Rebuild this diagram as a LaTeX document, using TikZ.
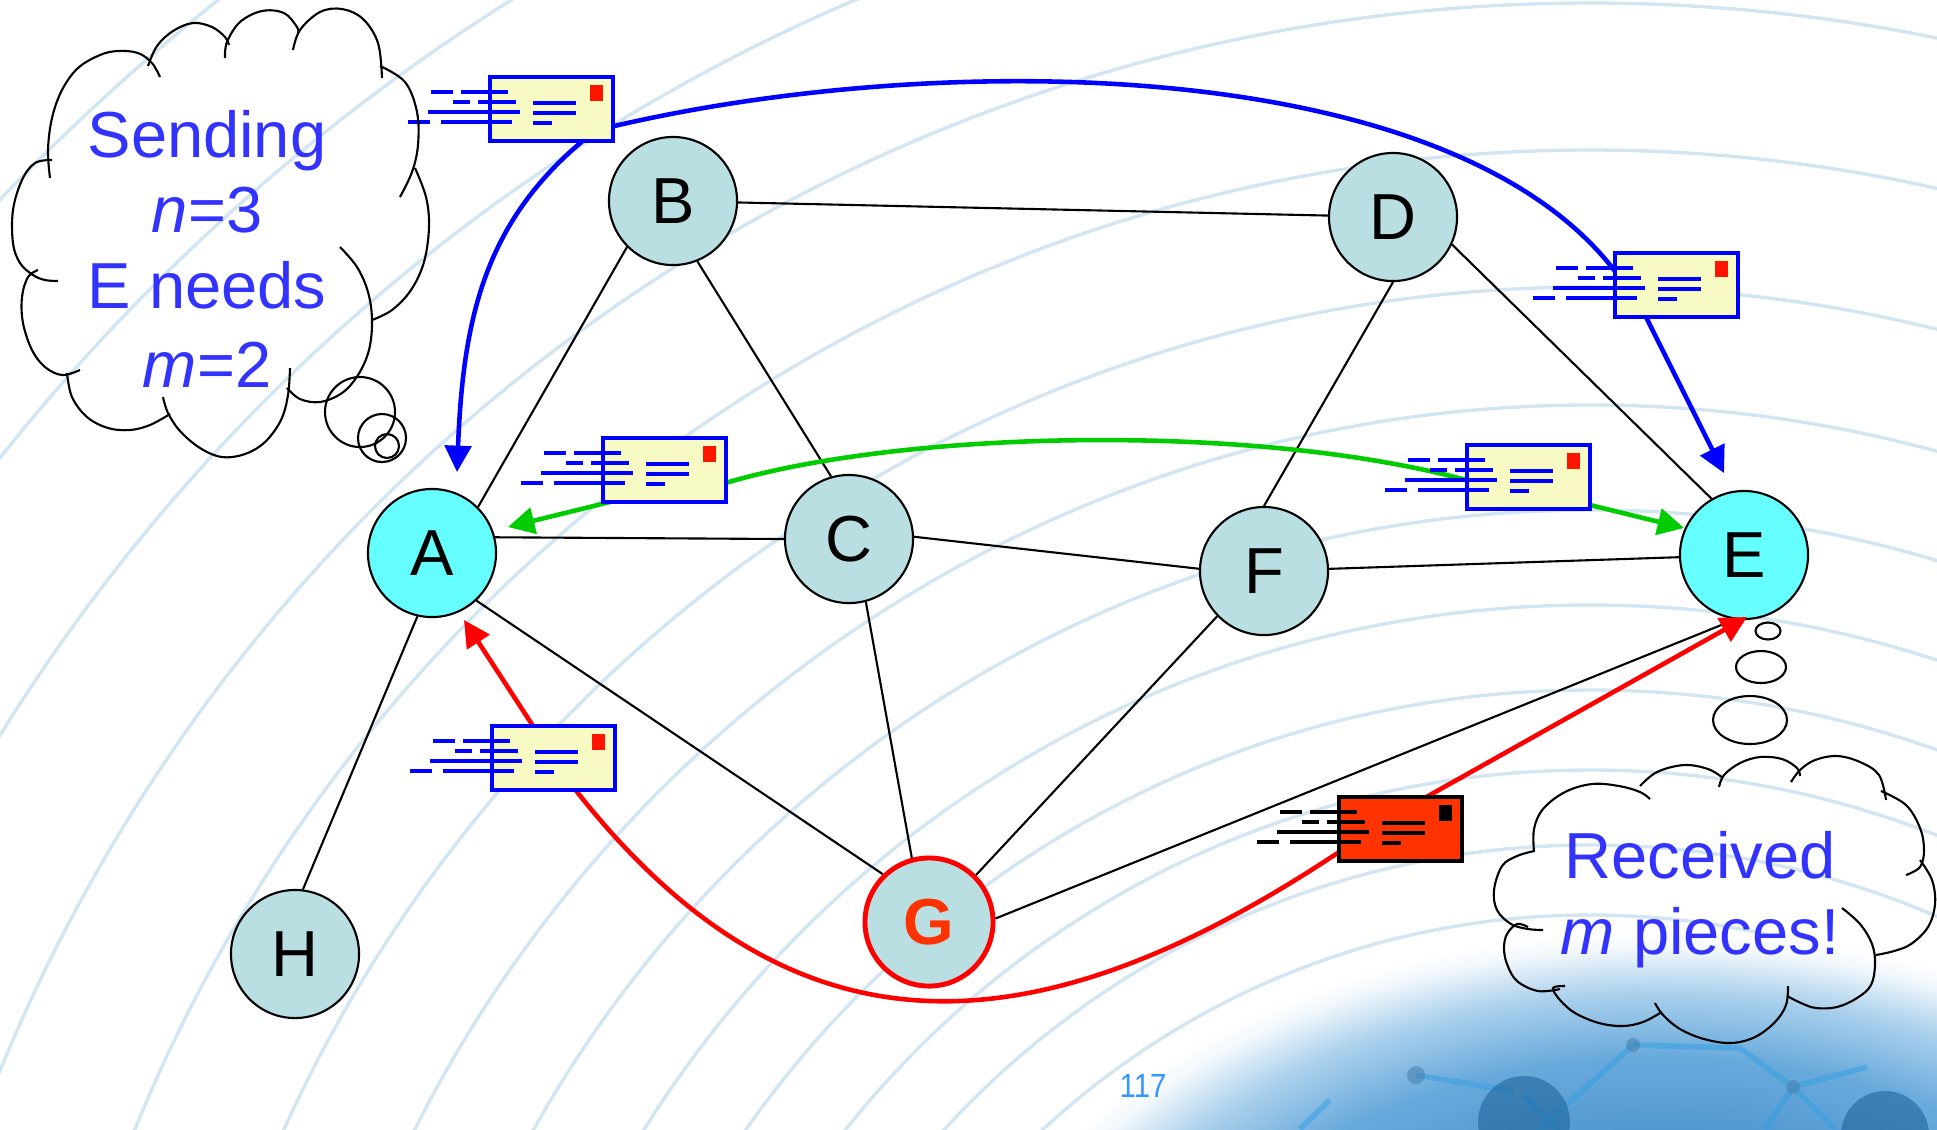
\documentclass[tikz,border=0pt]{standalone}
\usepackage{fontspec}
\setmainfont{Liberation Sans}
\usetikzlibrary{arrows.meta,calc}

\definecolor{nodefill}{RGB}{185,223,226}
\definecolor{hotfill}{RGB}{102,255,255}
\definecolor{msgblue}{RGB}{0,0,255}
\definecolor{msggreen}{RGB}{0,204,0}
\definecolor{msgred}{RGB}{255,0,0}
\definecolor{paper}{RGB}{248,250,195}
\definecolor{stampred}{RGB}{255,20,0}
\definecolor{urgent}{RGB}{255,51,0}
\definecolor{thinkblue}{RGB}{51,51,255}
\definecolor{ripple}{RGB}{210,229,243}
\definecolor{pagenum}{RGB}{51,153,255}
\definecolor{globedark}{RGB}{70,145,205}
\definecolor{globemid}{RGB}{105,170,220}
\definecolor{globelight}{RGB}{170,208,236}
\definecolor{netline}{RGB}{55,160,225}
\definecolor{netdark}{RGB}{25,95,150}

% globe in the corner: blue centre fading out to the white page
% (the path's bounding box maps to the inner 25bp of the shading)
\pgfdeclareradialshading{globecolors}{\pgfpointorigin}{color(0bp)=(globedark); color(12bp)=(globedark); color(18bp)=(globemid); color(21.5bp)=(globelight); color(24bp)=(white!85!globelight); color(25bp)=(white); color(50bp)=(white)}

\tikzset{
  graphnode/.style={circle, draw=black, line width=0.6pt, fill=nodefill,
    minimum size=1.28cm, inner sep=0pt, font=\fontsize{18.5}{22}\selectfont},
  hotnode/.style={graphnode, fill=hotfill},
  sourcenode/.style={graphnode, draw=msgred, line width=1.4pt, text=urgent,
    font=\fontsize{18.5}{22}\selectfont\bfseries},
  link/.style={draw=black, line width=0.6pt},
  flow/.style={line width=1.3pt, line join=round, <->,
    >={Triangle[length=7.5pt,width=7.5pt]}},
  env body/.style={draw=msgblue, fill=paper},
  env ink/.style={draw=msgblue},
  env stamp/.style={fill=stampred},
  urgent envelope/.style={env body/.style={draw=black, fill=urgent},
    env ink/.style={draw=black}, env stamp/.style={fill=black}},
  envelope/.pic={
    \path[env body, line width=1.14pt] (2,2) rectangle (125,66);
    \path[env stamp] (102,10) rectangle (115,26);
    \path[env ink, line width=1.14pt]
      (-57,17) -- (-35,17) (-27,17) -- (20,17)
      (-35,27) -- (-18,27) (-10,27) -- (28,27)
      (-60,37) -- (32,37)
      (-80,47) -- (-58,47) (-47,47) -- (24,47)
      (45,28) -- (88,28) (45,38) -- (88,38) (45,48) -- (64,48);
  },
  thought/.style={draw=black, line width=0.6pt},
  cloudtext/.style={text=thinkblue, font=\fontsize{18.5}{22}\selectfont,
    anchor=base, inner sep=0pt},
  ripple line/.style={draw=ripple, line width=0.95pt},
}

\begin{document}
\begin{tikzpicture}[x=0.01cm, y=-0.01cm]
\useasboundingbox (0,0) rectangle (1937,1129);
\fill[white] (0,0) rectangle (1937,1129);

% ripples and the globe in the corner
\begin{scope}
  \clip (0,0) rectangle (1937,1129);
  \foreach \r in {805,875,950,1030,1115,1210,1315,1433,1570,1717,1870,2030,2200,2380,2560}
    \draw[ripple line] (1590,1720) circle[radius=\r];
  \shade[shading=globecolors] (1660,1380) ellipse[x radius=700, y radius=450];
  \begin{scope}
    \clip (1660,1380) ellipse[x radius=600, y radius=370];
    \begin{scope}[opacity=0.55]
      \draw[netline, line width=1.6pt]
        (1416,1075) -- (1519,1092) -- (1560,1129)
        (1540,1129) -- (1633,1045) -- (1740,1048) -- (1793,1087) -- (1867,1067)
        (1793,1087) -- (1765,1129) (1793,1087) -- (1835,1129)
        (1300,1129) -- (1330,1100);
      \fill[netdark] (1524,1122) circle[radius=46];
      \fill[netdark] (1885,1135) circle[radius=44];
      \fill[netdark!80] (1416,1075) circle[radius=9] (1633,1045) circle[radius=7]
        (1793,1087) circle[radius=7] (1519,1092) circle[radius=6];
    \end{scope}
  \end{scope}
\end{scope}

% network nodes
\node[hotnode] (A) at (432,553) {A};
\node[graphnode] (B) at (673,201) {B};
\node[graphnode] (C) at (849,539) {C};
\node[graphnode] (D) at (1393,217) {D};
\node[hotnode] (E) at (1744,555) {E};
\node[graphnode] (F) at (1264,571) {F};
\node[sourcenode] (G) at (929,922) {G};
\node[graphnode] (H) at (295,954) {H};

% links
\draw[link] (A.45) -- (B.225);
\draw[link] (A.14) -- (C.180);
\draw[link] (A.313) -- (G.134);
\draw[link] (A.257) -- (H.83);
\draw[link] (B.292) -- (C.106);
\draw[link] (B) -- (D);
\draw[link] (C.2) -- (F.178);
\draw[link] (C.285) -- (G.105);
\draw[link] (D.270) -- (F.90);
\draw[link] (D.335) -- (E.120);
\draw[link] (F) -- (E);
\draw[link] (F.224) -- (G.45);
\draw[link] (G.3) -- (E.262);

% free ends of the message paths
\coordinate (blueA) at ($(A)+(25,-81)$);
\coordinate (blueE) at ($(E)+(-20,-82)$);
\coordinate (greenA) at ($(A)+(76,-26)$);
\coordinate (greenE) at ($(E)+(-60,-27)$);
\coordinate (redA) at ($(A)+(32,67)$);
\coordinate (redE) at ($(E)+(3,62)$);

% message paths
\draw[flow, msgblue] (blueA) .. controls (463,322) and (483,223) .. (585,139)
  -- (610,127) .. controls (945,48) and (1460,55) .. (1620,278)
  -- (1645,315) -- (blueE);
\draw[flow, msggreen] (greenA) -- (618,500) -- (722,484)
  .. controls (900,430) and (1255,422) .. (1470,481) -- (1590,505) -- (greenE);
\draw[flow, msgred] (redA) -- (535,729) -- (574,788)
  .. controls (789,1063) and (1029,1060) .. (1345,848) -- (1421,800) -- (redE);

% envelopes
\pic (env1) at (488,75) {envelope};
\pic (env2) at (1613,251) {envelope};
\pic (env3) at (601,436) {envelope};
\pic (env4) at (1465,443) {envelope};
\pic (env5) at (490,724) {envelope};
\pic[urgent envelope] (env6) at (1337,795) {envelope};

% left thought cloud
\begin{scope}[thought]
  \draw plot[smooth, tension=0.6] coordinates {(50,178) (48,150) (52,118) (62,90) (78,68) (100,55) (118,51) (138,53) (152,63) (160,77)};
  \draw plot[smooth, tension=0.6] coordinates {(148,66) (157,46) (173,31) (193,23) (212,27) (225,37) (229,45)};
  \draw plot[smooth, tension=0.6] coordinates {(225,58) (227,42) (240,22) (262,11) (284,13) (297,27) (298,33)};
  \draw plot[smooth, tension=0.6] coordinates {(293,50) (300,30) (320,12) (342,9) (363,19) (378,43) (382,78)};
  \draw plot[smooth, tension=0.6] coordinates {(380,66) (405,82) (417,112) (418,145) (412,172) (400,197)};
  \draw plot[smooth, tension=0.6] coordinates {(415,168) (426,197) (429,227) (424,262) (411,290) (392,310) (372,320)};
  \draw plot[smooth, tension=0.6] coordinates {(340,247) (357,267) (368,292) (372,320) (369,350) (358,375) (342,393) (320,402) (300,399) (287,388)};
  \draw plot[smooth, tension=0.6] coordinates {(290,368) (288,395) (281,420) (265,442) (245,454) (222,457) (200,448) (180,431) (168,413) (163,397)};
  \draw plot[smooth, tension=0.6] coordinates {(170,414) (150,425) (130,430) (108,428) (87,417) (72,397) (67,373)};
  \draw plot[smooth, tension=0.6] coordinates {(80,370) (62,375) (45,367) (32,350) (23,323) (22,297) (28,277) (38,270)};
  \draw plot[smooth, tension=0.6] coordinates {(52,160) (35,163) (22,180) (13,210) (13,243) (20,263) (33,275) (45,280) (58,281)};
  \draw (360,412) circle[radius=35];
  \draw (382,438) circle[radius=24];
  \draw (387,446) circle[radius=12];
\end{scope}

% right thought cloud
\begin{scope}[thought]
  \draw plot[smooth, tension=0.6] coordinates {(1534,852) (1534,829) (1543,809) (1565,792) (1592,784) (1619,786) (1640,792) (1650,799)};
  \draw plot[smooth, tension=0.6] coordinates {(1640,786) (1657,772) (1684,765) (1708,769) (1723,778)};
  \draw plot[smooth, tension=0.6] coordinates {(1719,787) (1724,775) (1740,763) (1760,757) (1782,759) (1797,768) (1800,776)};
  \draw plot[smooth, tension=0.6] coordinates {(1791,782) (1800,770) (1815,760) (1837,756) (1860,762) (1879,775) (1886,800)};
  \draw plot[smooth, tension=0.6] coordinates {(1881,791) (1906,805) (1920,828) (1924,850) (1920,867) (1906,875)};
  \draw plot[smooth, tension=0.6] coordinates {(1920,860) (1932,880) (1935,904) (1928,927) (1911,944) (1894,951) (1876,955)};
  \draw plot[smooth, tension=0.6] coordinates {(1842,908) (1860,924) (1872,944) (1875,964) (1871,985) (1857,998) (1837,1007) (1816,1008) (1801,1003) (1787,996)};
  \draw plot[smooth, tension=0.6] coordinates {(1788,986) (1786,1005) (1775,1022) (1755,1037) (1731,1043) (1704,1039) (1680,1029) (1663,1015) (1655,1003)};
  \draw plot[smooth, tension=0.6] coordinates {(1660,1013) (1643,1022) (1623,1026) (1599,1023) (1575,1013) (1560,1000) (1553,988) (1565,986)};
  \draw plot[smooth, tension=0.6] coordinates {(1560,989) (1538,991) (1517,981) (1507,964) (1504,948) (1507,934) (1517,924) (1528,927)};
  \draw plot[smooth, tension=0.6] coordinates {(1534,851) (1517,856) (1502,866) (1494,890) (1497,910) (1511,924) (1528,929) (1543,930)};
  \draw (1768,631) ellipse[x radius=12.5, y radius=8.5];
  \draw (1761,667) ellipse[x radius=25, y radius=16];
  \draw (1750,720) ellipse[x radius=37, y radius=24];
\end{scope}

% thoughts
\node[cloudtext] (t1) at (207,157) {Sending};
\node[cloudtext] (t2) at (207,232) {\textit{n}=3};
\node[cloudtext] (t3) at (207,308) {E needs};
\node[cloudtext] (t4) at (207,387) {\textit{m}=2};
\node[cloudtext] (t5) at (1700,878) {Received};
\node[cloudtext] (t6) at (1700,954) {\textit{m} pieces!};

% page number
\node[text=pagenum, font=\fontsize{9.5}{11}\selectfont, anchor=base, inner sep=0pt]
  (page) at (1143,1097) {\scalebox{0.88}[1]{117}};
\end{tikzpicture}
\end{document}
